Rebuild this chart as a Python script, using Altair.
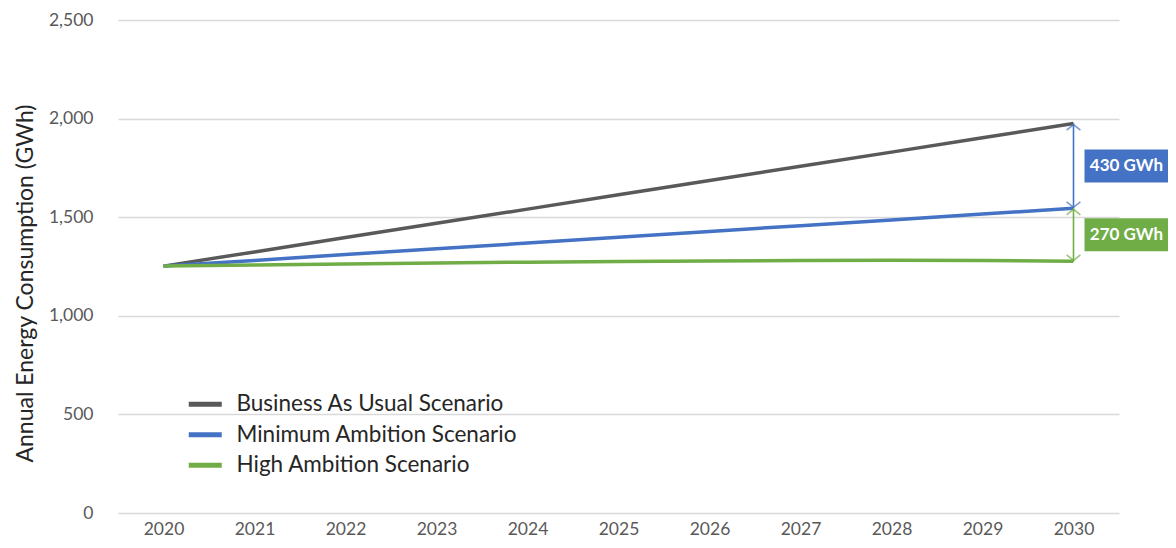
import altair as alt
import pandas as pd

years = [2020, 2021, 2022, 2023, 2024, 2025, 2026, 2027, 2028, 2029, 2030]
bau = [1252, 1324, 1397, 1469, 1541, 1614, 1686, 1758, 1830, 1903, 1975]
min_amb = [1252, 1281, 1311, 1340, 1369, 1398, 1428, 1457, 1486, 1516, 1545]
high_amb = [1252, 1258, 1263, 1268, 1272, 1275, 1278, 1280, 1282, 1281, 1276]
series_names = ["Business As Usual Scenario", "Minimum Ambition Scenario", "High Ambition Scenario"]
series_colors = ["#595959", "#4472C4", "#70AD47"]
gap_labels = ["430 GWh", "270 GWh"]

FONT = "Lato"

rows = []
for name, vals in zip(series_names, [bau, min_amb, high_amb]):
    for yv, v in zip(years, vals):
        rows.append({"year": yv, "value": v, "series": name})
df = pd.DataFrame(rows)

ann = pd.DataFrame({
    "year": [years[-1], years[-1]],
    "top": [bau[-1], min_amb[-1]],
    "bottom": [min_amb[-1], high_amb[-1]],
    "label": gap_labels,
    "color": [series_colors[1], series_colors[2]],
})
ann["mid"] = (ann["top"] + ann["bottom"]) / 2

xscale = alt.Scale(domain=[2019.5, 2030.5], nice=False, zero=False)
yscale = alt.Scale(domain=[0, 2500], nice=False)

xaxis = alt.Axis(values=years, format="d", title=None, grid=False, domain=False, ticks=False,
                 labelColor="#595959", labelFontSize=17.5, labelFont=FONT, labelPadding=7)

lines = alt.Chart(df).mark_line(strokeWidth=3.5).encode(
    x=alt.X("year:Q", scale=xscale, axis=xaxis),
    y=alt.Y("value:Q", scale=yscale,
            axis=alt.Axis(values=[0, 500, 1000, 1500, 2000, 2500], format=",d", domain=False, ticks=False,
                          gridColor="#d9d9d9", gridWidth=1.3,
                          labelColor="#595959", labelFontSize=17.5, labelFont=FONT, labelPadding=25,
                          title="Annual Energy Consumption (GWh)", titleFont=FONT, titleFontSize=23,
                          titleFontWeight="normal", titleColor="#262626", titlePadding=11,
                          titleY=263, titleAlign="center", titleBaseline="bottom")),
    color=alt.Color("series:N", scale=alt.Scale(domain=series_names, range=series_colors),
                    legend=alt.Legend(orient="none", legendX=76, legendY=373, title=None,
                                      symbolType="M-3,0L3,0", symbolStrokeWidth=5, symbolSize=121,
                                      symbolOpacity=1,
                                      labelFont=FONT, labelFontSize=22.5, labelColor="#262626",
                                      labelOffset=20, rowPadding=7.5, labelLimit=400)),
    order=alt.Order("series:N"),
)

rules = alt.Chart(ann).mark_rule(strokeWidth=1.6).encode(
    x=alt.X("year:Q", scale=xscale),
    y=alt.Y("top:Q", scale=yscale),
    y2="bottom:Q",
    color=alt.Color("color:N", scale=None),
)

chev = "M-1,0.8L0,0L1,0.8"
heads_top = alt.Chart(ann).mark_point(shape=chev, filled=False, size=190, strokeWidth=1.6, yOffset=1).encode(
    x=alt.X("year:Q", scale=xscale), y=alt.Y("top:Q", scale=yscale), color=alt.Color("color:N", scale=None))
heads_bot = alt.Chart(ann).mark_point(shape=chev, filled=False, size=190, strokeWidth=1.6, angle=180, yOffset=-1).encode(
    x=alt.X("year:Q", scale=xscale), y=alt.Y("bottom:Q", scale=yscale), color=alt.Color("color:N", scale=None))

boxes = alt.Chart(ann).mark_rect(width=86, height=33, xOffset=54).encode(
    x=alt.X("year:Q", scale=xscale), y=alt.Y("mid:Q", scale=yscale), color=alt.Color("color:N", scale=None))

texts = alt.Chart(ann).mark_text(font=FONT, fontSize=17, fontWeight="bold", color="white", dx=53, align="center",
                                 baseline="middle").encode(
    x=alt.X("year:Q", scale=xscale), y=alt.Y("mid:Q", scale=yscale), text="label:N")

chart = alt.layer(lines, rules, heads_top, heads_bot, boxes, texts).properties(
    width=1001, height=493,
    autosize=alt.AutoSizeParams(type="none"),
    padding={"left": 110, "top": 12, "right": 49, "bottom": 25},
).configure(background="white", view=alt.ViewConfig(stroke=None),
            legend=alt.LegendConfig(symbolOpacity=1))

chart.save("out.html", embed_options={"renderer": "svg", "actions": False})
